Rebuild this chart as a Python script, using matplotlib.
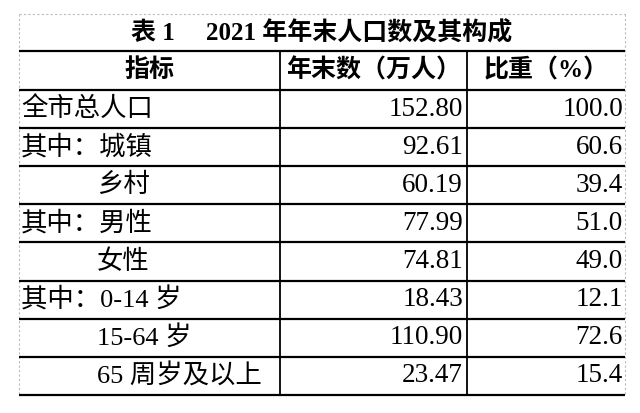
import matplotlib
matplotlib.use("Agg")
import matplotlib.pyplot as plt

plt.rcParams['font.family'] = ['Liberation Serif', 'Noto Sans CJK SC', 'DejaVu Sans']

title = "表 1     2021 年年末人口数及其构成"
headers = ["指标", "年末数（万人）", "比重（%）"]
labels = ["全市总人口", "其中：城镇", "乡村", "其中：男性", "女性",
          "其中：0-14 岁", "15-64 岁", "65 周岁及以上"]
indented = [False, False, True, False, True, False, True, True]
counts = [152.80, 92.61, 60.19, 77.99, 74.81, 18.43, 110.90, 23.47]
shares = [100.0, 60.6, 39.4, 51.0, 49.0, 12.1, 72.6, 15.4]

W, H = 640, 413
fig = plt.figure(figsize=(W / 100, H / 100), dpi=100)
ax = fig.add_axes([0, 0, 1, 1])
ax.set_xlim(0, W)
ax.set_ylim(H, 0)
ax.axis("off")

left, right = 19, 625
col1, col2 = 280, 467
top = 14
title_bot = 51
head_bot = 90
row_h = 38.1
n = len(labels)
bottom = head_bot + row_h * n

# dashed outer frame (top, left, right)
ax.plot([left, right], [top, top], color="#bbbbbb", lw=0.8, ls=(0, (2, 2)))
ax.plot([left, left], [top, bottom], color="#bbbbbb", lw=0.8, ls=(0, (2, 2)))
ax.plot([right, right], [top, bottom], color="#bbbbbb", lw=0.8, ls=(0, (2, 2)))

# horizontal rules
for y in [title_bot, head_bot] + [head_bot + row_h * (i + 1) for i in range(n)]:
    ax.plot([left, right], [y, y], color="black", lw=1.6, solid_capstyle="butt")
# column separators
for x in (col1, col2):
    ax.plot([x, x], [title_bot, bottom], color="black", lw=1.3, solid_capstyle="butt")

fs = 19
ax.text((left + right) / 2, (top + title_bot) / 2 + 1, title, ha="center", va="center",
        fontsize=18, fontweight="bold")

centers = [(left + col1) / 2, (col1 + col2) / 2, (col2 + right) / 2]
for cx, h in zip(centers, headers):
    ax.text(cx, (title_bot + head_bot) / 2, h, ha="center", va="center",
            fontsize=18, fontweight="bold")

for i, (lab, ind, c, s) in enumerate(zip(labels, indented, counts, shares)):
    yc = head_bot + row_h * (i + 0.5)
    ax.text(97 if ind else 21, yc, lab, ha="left", va="center", fontsize=fs)
    ax.text(col2 - 4, yc, f"{c:.2f}", ha="right", va="center", fontsize=fs + 0.5)
    ax.text(right - 2, yc, f"{s:.1f}", ha="right", va="center", fontsize=fs + 0.5)

fig.savefig("out.png", dpi=100, facecolor="white")
